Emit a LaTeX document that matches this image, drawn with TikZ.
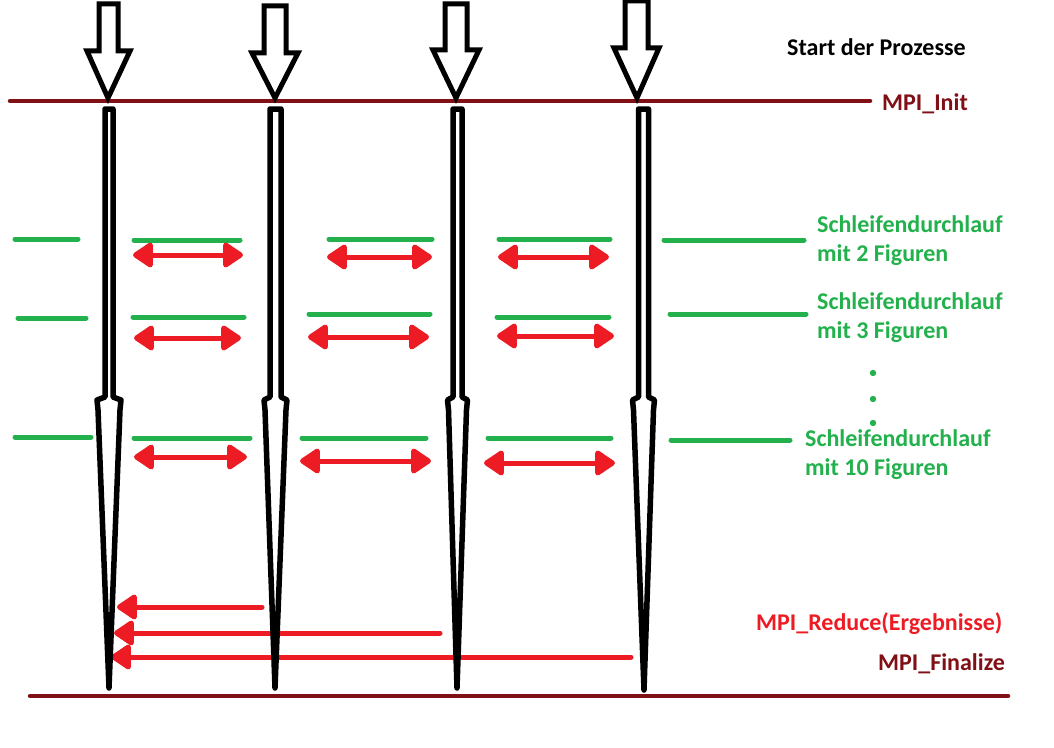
\documentclass[tikz,border=0pt]{standalone}
\usepackage{fontspec}
\setmainfont{Carlito}
\usetikzlibrary{arrows.meta}
\definecolor{pgreen}{RGB}{34,177,76}
\definecolor{pred}{RGB}{237,28,36}
\definecolor{pdark}{RGB}{128,16,22}
\tikzset{
  startarrow/.style={draw=black, line width=5bp, line join=miter, fill=white},
  spindle/.style={draw=black, line width=5.5bp, line join=round},
  mpiline/.style={draw=pdark, line width=4.5bp, line cap=round},
  loopline/.style={draw=pgreen, line width=5bp, line cap=round},
  msg/.style={draw=pred, line width=5bp, line cap=round},
  both/.style={{Triangle[length=22bp,width=28bp,round]}-{Triangle[length=22bp,width=28bp,round]}},
  left/.style={-{Triangle[length=22bp,width=28bp,round]}},
  lbl/.style={font=\fontsize{24bp}{28bp}\selectfont\bfseries, inner sep=0pt, anchor=base west},
}
\newcommand\myspindle[5]{%
  \draw[spindle] ({#1-#2},109) -- ({#1-#2},397) -- ({#1-#3},400) -- ({#1-#3+1},410)
    -- (#4,#5) -- ({#1+#3-1},410) -- ({#1+#3},400) -- ({#1+#2},397) -- ({#1+#2},109) -- cycle;}
\newcommand\mystart[7]{%
  % shaft left, shaft right, top, wing y, wing left, wing right, tip x ; tip y = 98
  \draw[startarrow] (#1,#3) -- (#2,#3) -- (#2,#4) -- (#6,#4) -- (#7,98) -- (#5,#4) -- (#1,#4) -- cycle;}
\begin{document}
\begin{tikzpicture}[x=1bp,y=-1bp]
\useasboundingbox[fill=white] (0,0) rectangle (1054,748);

% MPI lines
\coordinate (initL) at (10,101);  \coordinate (initR) at (870,101);
\coordinate (finL) at (30,696);   \coordinate (finR) at (1008,696);
\draw[mpiline] (initL) -- (initR);
\draw[mpiline] (finL) -- (finR);

% start arrows
\mystart{99}{118}{4}{51}{87}{130}{108}
\mystart{264}{286}{6}{53}{252}{298}{275}
\mystart{445}{467}{4}{50}{433}{479}{456}
\mystart{625}{648}{1}{48}{614}{659}{637}

% green loop lines
\foreach \n/\xa/\xb/\y in {
  a1/15/78/239, a2/134/240/240, a3/329/432/239, a4/499/610/239, a5/664/804/240,
  b1/18/86/318, b2/133/244/317, b3/309/430/314, b4/497/609/317, b5/670/806/314,
  c1/15/91/437, c2/134/250/438, c3/302/426/438, c4/488/611/438, c5/671/790/440}{
  \coordinate (g\n l) at (\xa,\y); \coordinate (g\n r) at (\xb,\y);
  \draw[loopline] (g\n l) -- (g\n r);
}

% red exchange arrows
\foreach \n/\xa/\xb/\y in {
  a1/133/243/255, a2/327/432/257, a3/498/609/257,
  b1/134/241/338, b2/308/429/337, b3/497/614/336,
  c1/134/247/457, c2/300/431/461, c3/484/615/463}{
  \coordinate (r\n l) at (\xa,\y); \coordinate (r\n r) at (\xb,\y);
  \draw[msg,both] (r\n l) -- (r\n r);
}

% reduce arrows
\coordinate (red1s) at (262,607); \coordinate (red1e) at (117,607);
\coordinate (red2s) at (440,633); \coordinate (red2e) at (114,633);
\coordinate (red3s) at (631,657); \coordinate (red3e) at (111,657);
\draw[msg,left] (red1s) -- (red1e);
\draw[msg,left] (red2s) -- (red2e);
\draw[msg,left] (red3s) -- (red3e);

% process spindles
\myspindle{109}{4}{12}{109}{688}
\myspindle{275.5}{5.5}{11.5}{275}{688}
\myspindle{457.5}{4.5}{10}{457}{688}
\myspindle{643.5}{5}{11}{644}{690}

% labels
\node[lbl] (start) at (787,56) {Start der Prozesse};
\node[lbl, text=pdark] (init) at (882,110) {MPI\_Init};
\node[lbl, text=pgreen] (s2a) at (817,232) {Schleifendurchlauf};
\node[lbl, text=pgreen] (s2b) at (817,261) {mit 2 Figuren};
\node[lbl, text=pgreen] (s3a) at (817,309) {Schleifendurchlauf};
\node[lbl, text=pgreen] (s3b) at (817,338) {mit 3 Figuren};
\node[lbl, text=pgreen] (s10a) at (805,446) {Schleifendurchlauf};
\node[lbl, text=pgreen] (s10b) at (805,475) {mit 10 Figuren};
\node[lbl, text=pred] (reduce) at (756,630) {MPI\_Reduce(Ergebnisse)};
\node[lbl, text=pdark] (final) at (878,670) {MPI\_Finalize};
\foreach \n/\y in {1/373, 2/399, 3/423}
  \fill[pgreen] (873,\y) circle (3.2bp) coordinate (dot\n);
\end{tikzpicture}
\end{document}
